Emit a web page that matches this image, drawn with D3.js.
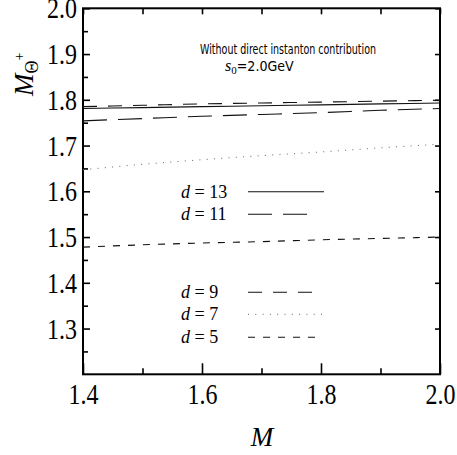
<!DOCTYPE html>
<html>
<head>
<meta charset="utf-8">
<script src="https://cdn.jsdelivr.net/npm/d3@7"></script>
<style>
  body { margin: 0; background: #fff; }
  svg { display: block; }
</style>
</head>
<body>
<svg width="457" height="455"></svg>
<script>
// x positions (M)
var mVals = [1.4, 1.5, 1.6, 1.7, 1.8, 1.9, 2.0]

// curves
var d13 = [1.781, 1.783, 1.785, 1.787, 1.789, 1.791, 1.793]
var d11 = [1.754, 1.759, 1.764, 1.768, 1.772, 1.777, 1.781]
var d9  = [1.785, 1.788, 1.791, 1.793, 1.795, 1.797, 1.799]
var d7  = [1.647, 1.659, 1.669, 1.678, 1.686, 1.695, 1.703]
var d5  = [1.478, 1.483, 1.487, 1.490, 1.494, 1.497, 1.500]

var labels = ["d = 13", "d = 11", "d = 9", "d = 7", "d = 5"]
var xTicks = [1.4, 1.5, 1.6, 1.7, 1.8, 1.9, 2.0]
var xLabelTicks = [1.4, 1.6, 1.8, 2.0]
var yTicks = [1.25, 1.3, 1.35, 1.4, 1.45, 1.5, 1.55, 1.6, 1.65, 1.7, 1.75, 1.8, 1.85, 1.9, 1.95, 2.0]
var yLabelTicks = [1.3, 1.4, 1.5, 1.6, 1.7, 1.8, 1.9, 2.0]

var series = [
  {name: labels[0], vals: d13, dash: null,     w: 1.1, col: "#111", ly: 191.7, len: 76},
  {name: labels[1], vals: d11, dash: "24,11",  w: 1.1, col: "#111", ly: 214.3, len: 59},
  {name: labels[2], vals: d9,  dash: "14,11",  w: 1.1, col: "#111", ly: 292.3, len: 64},
  {name: labels[3], vals: d7,  dash: "1,6.3",  w: 1,   col: "#666", ly: 314.3, len: 76},
  {name: labels[4], vals: d5,  dash: "7,8",    w: 1.1, col: "#111", ly: 337.3, len: 73}
]

var L = 83, R = 440, T = 8.3, B = 374.3
var serif = "Liberation Serif"
var SY = 1.2   // vertical stretch of the tick digits

var svg = d3.select("svg")

var x = d3.scaleLinear().domain([1.4, 2.0]).range([L, R])
var y = d3.scaleLinear().domain([1.2, 2.0]).range([B, T])

var fmt = d3.format(".1f")
var isMajorX = function(v){ return xLabelTicks.some(function(t){ return Math.abs(t - v) < 1e-6 }) }
var isMajorY = function(v){ return yLabelTicks.some(function(t){ return Math.abs(t - v) < 1e-6 }) }

function blackTicks(g){
  g.select(".domain").remove()
  g.selectAll("line").attr("stroke", "#000").attr("stroke-width", 1.6)
}

// bottom axis: major ticks
svg.append("g")
  .attr("transform", `translate(0,${B})`)
  .call(d3.axisBottom(x).tickValues(xLabelTicks).tickSizeInner(-11).tickSizeOuter(0).tickFormat(fmt))
  .call(blackTicks)
  .call(function(g){
    g.attr("font-family", serif)
    g.selectAll("text")
      .attr("font-family", serif)
      .attr("font-size", 24).attr("fill", "#000")
      .attr("dy", null).attr("y", 29.5 / SY)
      .attr("transform", `scale(1,${SY})`)
  })
// bottom minor ticks
svg.append("g")
  .attr("transform", `translate(0,${B})`)
  .call(d3.axisBottom(x).tickValues(xTicks.filter(function(v){ return !isMajorX(v) })).tickSizeInner(-6).tickSizeOuter(0).tickFormat(""))
  .call(blackTicks)
// top ticks
svg.append("g")
  .attr("transform", `translate(0,${T})`)
  .call(d3.axisTop(x).tickValues(xTicks).tickSizeInner(-6).tickSizeOuter(0).tickFormat(""))
  .call(blackTicks)

// left axis
svg.append("g")
  .attr("transform", `translate(${L},0)`)
  .call(d3.axisLeft(y).tickValues(yLabelTicks).tickSizeInner(-7).tickSizeOuter(0).tickFormat(fmt))
  .call(blackTicks)
  .call(function(g){
    g.attr("font-family", serif)
    g.selectAll("text")
      .attr("font-family", serif)
      .attr("font-size", 24).attr("fill", "#000")
      .attr("x", -6).attr("dy", "0.33em")
      .attr("transform", `scale(1,${SY})`)
  })
svg.append("g")
  .attr("transform", `translate(${L},0)`)
  .call(d3.axisLeft(y).tickValues(yTicks.filter(function(v){ return !isMajorY(v) })).tickSizeInner(-5).tickSizeOuter(0).tickFormat(""))
  .call(blackTicks)
// right ticks
svg.append("g")
  .attr("transform", `translate(${R},0)`)
  .call(d3.axisRight(y).tickValues(yLabelTicks).tickSizeInner(-5).tickSizeOuter(0).tickFormat(""))
  .call(blackTicks)

// frame
svg.append("rect")
  .attr("x", L).attr("y", T)
  .attr("width", R - L).attr("height", B - T)
  .attr("fill", "none").attr("stroke", "#000").attr("stroke-width", 2)

// curves
var line = d3.line()
  .x(function(d, i){ return x(mVals[i]) })
  .y(function(d){ return y(d) })
  .curve(d3.curveMonotoneX)

svg.selectAll("path.curve")
  .data(series)
  .enter()
  .append("path")
    .attr("class", "curve")
    .attr("d", function(d){ return line(d.vals) })
    .attr("fill", "none")
    .attr("stroke", function(d){ return d.col })
    .attr("stroke-width", function(d){ return d.w })
    .attr("stroke-dasharray", function(d){ return d.dash })

// legend
var leg = svg.selectAll("g.leg")
  .data(series)
  .enter()
  .append("g")
    .attr("class", "leg")

leg.append("line")
  .attr("x1", 248).attr("x2", function(d){ return 248 + d.len })
  .attr("y1", function(d){ return d.ly }).attr("y2", function(d){ return d.ly })
  .attr("stroke", function(d){ return d.col })
  .attr("stroke-width", function(d){ return d.w })
  .attr("stroke-dasharray", function(d){ return d.dash })

var lt = leg.append("text")
  .attr("x", 181)
  .attr("y", function(d){ return d.ly + 6 })
  .attr("font-family", serif)
  .attr("font-size", 18)
lt.append("tspan").attr("font-style", "italic").text("d")
lt.append("tspan").text(function(d){ return d.name.slice(1) })

// title
svg.append("text")
  .attr("x", 288).attr("y", 54)
  .attr("text-anchor", "middle")
  .attr("font-family", "DejaVu Sans Condensed")
  .attr("font-size", 14.5)
  .attr("textLength", 176)
  .attr("lengthAdjust", "spacingAndGlyphs")
  .text("Without direct instanton contribution")

var s0 = svg.append("text")
  .attr("x", 225).attr("y", 71)
  .attr("font-family", "DejaVu Sans Condensed")
  .attr("font-size", 14.5)
s0.append("tspan").attr("font-family", serif).attr("font-style", "italic").attr("font-size", 16).text("s")
s0.append("tspan").attr("font-family", serif).attr("font-size", 11).attr("dy", 3).text("0")
s0.append("tspan").attr("dy", -3).attr("textLength", 57).attr("lengthAdjust", "spacingAndGlyphs").text("=2.0GeV")

// x label
svg.append("text")
  .attr("x", 262).attr("y", 446)
  .attr("text-anchor", "middle")
  .attr("font-family", serif)
  .attr("font-style", "italic")
  .attr("font-size", 27)
  .text("M")

// y label
var yl = svg.append("text")
  .attr("transform", "translate(33,96) rotate(-90)")
  .attr("font-family", serif)
  .attr("font-size", 27)
yl.append("tspan").attr("font-style", "italic").text("M")
yl.append("tspan").attr("font-size", 18).attr("dy", 5).text("\u0398")
yl.append("tspan").attr("font-size", 14).attr("dy", -14).text("+")
</script>
</body>
</html>
